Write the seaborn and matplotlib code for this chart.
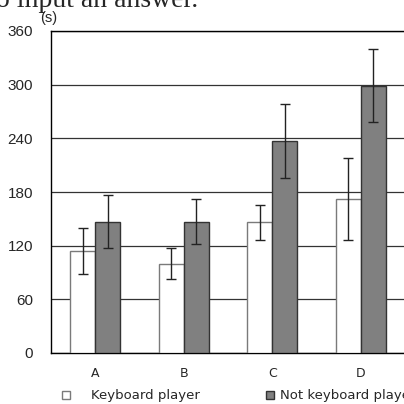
import matplotlib
matplotlib.use("Agg")
import matplotlib.pyplot as plt
import seaborn as sns
import pandas as pd

# values (seconds)
conditions = ["A", "B", "C", "D"]
groups = ["Keyboard player", "Not keyboard player"]
keyboard_mean = [114, 100, 146, 172]
keyboard_err = [26, 17, 20, 46]
not_keyboard_mean = [147, 147, 237, 299]
not_keyboard_err = [30, 25, 41, 41]
yticks = [0, 60, 120, 180, 240, 300, 360]

df = pd.DataFrame({
    "cond": conditions * 2,
    "group": [groups[0]] * 4 + [groups[1]] * 4,
    "time": keyboard_mean + not_keyboard_mean,
})

sns.set_style("white")
plt.rcParams["font.family"] = ["DejaVu Sans"]

fig = plt.figure(figsize=(4.04, 4.04), dpi=100)
ax = fig.add_axes([51 / 404, 51 / 404, 353 / 404, 322 / 404])

sns.barplot(data=df, x="cond", y="time", hue="group", hue_order=groups,
            palette=["white", "#808080"], width=0.565, gap=0, errorbar=None,
            ax=ax, legend=True, zorder=3)

for bar in ax.patches:
    if bar.get_facecolor()[0] > 0.9:
        bar.set_edgecolor("#7a7a7a")
    else:
        bar.set_edgecolor("#333333")
    bar.set_linewidth(1.0)

# error bars on top of the bars seaborn drew
for b in ax.patches:
    if b.get_height() <= 0:
        continue
    xc = b.get_x() + b.get_width() / 2
    i = int(round(xc))
    white = b.get_facecolor()[0] > 0.9
    e = (keyboard_err if white else not_keyboard_err)[i]
    ax.errorbar(xc, b.get_height(), yerr=e, color="#222222", lw=1.0,
                capsize=3.5, capthick=1.0, zorder=4)

handles, labels = ax.get_legend_handles_labels()
ax.get_legend().remove()

ax.set_xlim(-0.5, 3.49)
ax.set_ylim(0, 360)
ax.set_yticks(yticks, labels=[str(v) for v in yticks],
              fontfamily="Liberation Sans", fontsize=11)
ax.yaxis.grid(True, color="#333333", lw=0.9, zorder=0)
ax.set_axisbelow(True)
ax.set_xlabel("")
ax.set_ylabel("")
ax.tick_params(axis="y", length=0, pad=13)
ax.tick_params(axis="x", length=0, pad=10, labelsize=9)
ax.set_xticks([0.5, 1.5, 2.5], minor=True)
ax.tick_params(axis="x", which="minor", direction="in", length=3,
               color="#bbbbbb", width=0.8)

for s in ["left", "bottom", "top"]:
    ax.spines[s].set_color("black")
    ax.spines[s].set_linewidth(1.0)
ax.spines["right"].set_visible(False)

fig.text(40 / 404, 1 - 22 / 404, "(s)", fontsize=10.5, family="Liberation Sans",
         ha="left", va="baseline")
fig.text(-0.01, 1 - 7 / 404, "o input an answer.", fontsize=20,
         family="Liberation Serif", ha="left", va="baseline")

fig.legend([handles[0]], [labels[0]], loc="center left",
           bbox_to_anchor=(55 / 404, 1 - 396 / 404), frameon=False,
           fontsize=9.5, handlelength=0.6, handleheight=0.6,
           handletextpad=1.6, borderpad=0)
fig.legend([handles[1]], [labels[1]], loc="center left",
           bbox_to_anchor=(259 / 404, 1 - 396 / 404), frameon=False,
           fontsize=9.5, handlelength=0.6, handleheight=0.6,
           handletextpad=0.5, borderpad=0)

fig.savefig("out.png", dpi=100)
